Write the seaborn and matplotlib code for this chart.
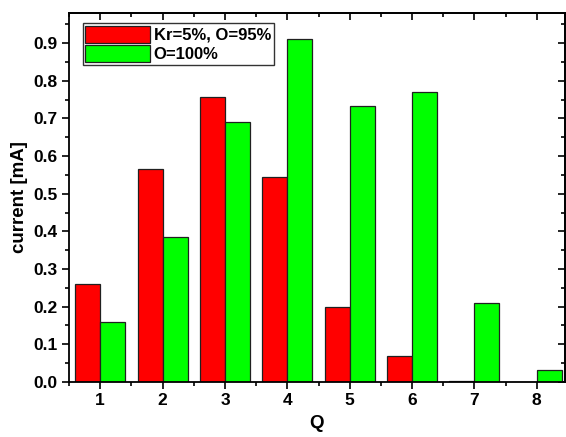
import numpy as np
import pandas as pd
import matplotlib
matplotlib.use("Agg")
import matplotlib.pyplot as plt
import seaborn as sb
from matplotlib.ticker import MultipleLocator, FormatStrFormatter, NullFormatter

Q = [1, 2, 3, 4, 5, 6, 7, 8]
kr_o = [0.260, 0.567, 0.757, 0.545, 0.200, 0.070, 0.003, 0.0]
o_100 = [0.158, 0.384, 0.690, 0.910, 0.733, 0.770, 0.210, 0.033]
labels = ["Kr=5%, O=95%", "O=100%"]

df = pd.DataFrame({
    "Q": Q * 2,
    "current": kr_o + o_100,
    "gas": [labels[0]] * len(Q) + [labels[1]] * len(Q),
})

sb.set_style("ticks")
plt.rcParams['font.family'] = ['Liberation Sans', 'DejaVu Sans']
plt.rcParams['font.weight'] = 'bold'
plt.rcParams['text.color'] = 'black'
plt.rcParams['axes.labelcolor'] = 'black'
plt.rcParams['axes.edgecolor'] = 'black'
plt.rcParams['xtick.color'] = 'black'
plt.rcParams['ytick.color'] = 'black'

fig = plt.figure(figsize=(5.66, 4.37), dpi=100)
ax = fig.add_axes([0.122, 0.126, 0.876, 0.844])

sb.barplot(data=df, x="Q", y="current", hue="gas", native_scale=True,
           palette=["#ff0000", "#00ff00"], width=0.8, edgecolor="#202020",
           linewidth=0.9, saturation=1, ax=ax, legend=True)

ax.set_xlim(0.5, 8.45)
ax.set_ylim(0, 0.98)
ax.xaxis.set_major_locator(MultipleLocator(1))
ax.xaxis.set_minor_locator(MultipleLocator(0.5))
ax.yaxis.set_major_locator(MultipleLocator(0.1))
ax.yaxis.set_minor_locator(MultipleLocator(0.05))
ax.yaxis.set_major_formatter(FormatStrFormatter("%.1f"))

ax.tick_params(which="both", direction="out", width=1.2, pad=3)
ax.tick_params(which="major", length=5, labelsize=12.5)
ax.tick_params(which="minor", length=3)
for t in ax.get_xticklabels() + ax.get_yticklabels():
    t.set_fontweight("bold")
for s in ax.spines.values():
    s.set_linewidth(1.3)
    s.set_visible(True)

# top and right ticks point inward, no labels
top = ax.secondary_xaxis("top")
right = ax.secondary_yaxis("right")
for sec, axis in [(top, top.xaxis), (right, right.yaxis)]:
    axis.set_major_locator(MultipleLocator(1 if sec is top else 0.1))
    axis.set_minor_locator(MultipleLocator(0.5 if sec is top else 0.05))
    axis.set_major_formatter(NullFormatter())
    sec.tick_params(which="both", direction="in", width=1.2)
    sec.tick_params(which="major", length=5)
    sec.tick_params(which="minor", length=3)
    for s in sec.spines.values():
        s.set_linewidth(1.3)

ax.set_xlabel("Q", fontsize=13.5, fontweight="bold", labelpad=5)
ax.set_ylabel("current [mA]", fontsize=13.5, fontweight="bold", labelpad=4)

leg = ax.legend(loc="upper left", bbox_to_anchor=(0.028, 0.973), fontsize=12,
                frameon=True, fancybox=False, edgecolor="black",
                handlelength=3.9, handleheight=1.2, borderpad=0.15,
                labelspacing=0.15, handletextpad=0.2, borderaxespad=0)
leg.get_frame().set_linewidth(1.0)
for t in leg.get_texts():
    t.set_fontweight("bold")

fig.savefig("out.png", dpi=100)
